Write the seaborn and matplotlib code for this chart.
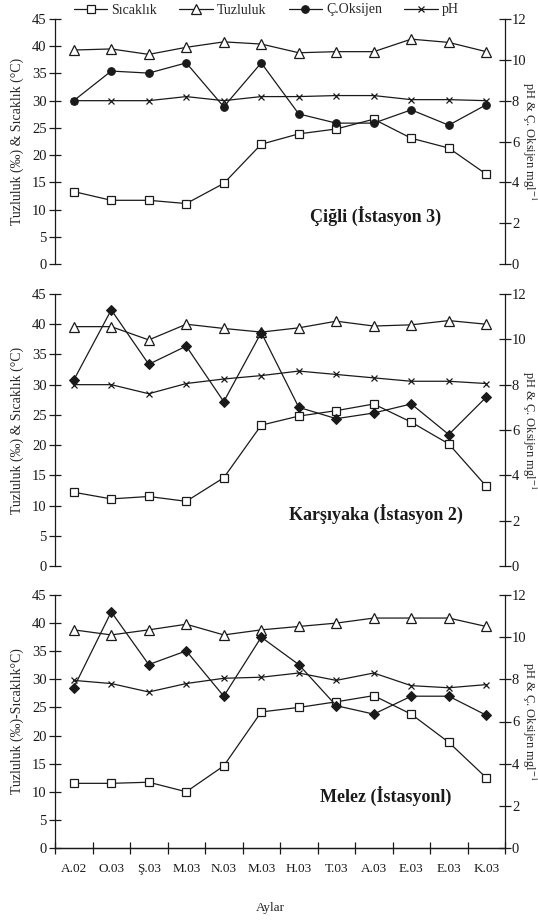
import numpy as np
import pandas as pd
import matplotlib
matplotlib.use("Agg")
import matplotlib.pyplot as plt
import seaborn as sns

# Months (x axis)
months = ["A.02", "O.03", "Ş.03", "M.03", "N.03", "M.03",
          "H.03", "T.03", "A.03", "E.03", "E.03", "K.03"]

# Çiğli (İstasyon 3)
cigli_sicaklik = [13.3, 11.7, 11.7, 11.1, 14.8, 22.0, 23.9, 24.8, 26.6, 23.1, 21.3, 16.5]
cigli_tuzluluk = [39.3, 39.5, 38.5, 39.8, 40.8, 40.4, 38.8, 39.0, 39.0, 41.3, 40.7, 39.0]
cigli_oksijen = [8.0, 9.45, 9.35, 9.85, 7.7, 9.85, 7.35, 6.9, 6.9, 7.55, 6.8, 7.8]
cigli_ph = [8.0, 8.0, 8.0, 8.2, 8.0, 8.2, 8.2, 8.25, 8.25, 8.05, 8.05, 8.0]

# Karşıyaka (İstasyon 2)
karsiyaka_sicaklik = [12.2, 11.1, 11.5, 10.7, 14.6, 23.3, 24.8, 25.7, 26.8, 23.8, 20.2, 13.2]
karsiyaka_tuzluluk = [39.6, 39.6, 37.4, 40.0, 39.3, 38.7, 39.4, 40.5, 39.7, 39.9, 40.6, 40.0]
karsiyaka_oksijen = [8.2, 11.3, 8.9, 9.7, 7.25, 10.3, 7.0, 6.5, 6.75, 7.15, 5.8, 7.45]
karsiyaka_ph = [8.0, 8.0, 7.6, 8.05, 8.25, 8.4, 8.6, 8.45, 8.3, 8.15, 8.15, 8.05]

# Melez (İstasyon 1)
melez_sicaklik = [11.5, 11.5, 11.7, 10.0, 14.6, 24.2, 25.0, 26.0, 27.1, 23.8, 18.8, 12.5]
melez_tuzluluk = [38.8, 37.9, 38.8, 39.8, 37.9, 38.8, 39.4, 40.0, 40.9, 40.9, 40.9, 39.4]
melez_oksijen = [7.6, 11.2, 8.7, 9.35, 7.2, 10.0, 8.7, 6.75, 6.35, 7.2, 7.2, 6.3]
melez_ph = [7.95, 7.8, 7.4, 7.8, 8.05, 8.1, 8.3, 7.95, 8.3, 7.7, 7.6, 7.75]

stations = ["Çiğli (İstasyon 3)", "Karşıyaka (İstasyon 2)", "Melez (İstasyonl)"]
left_labels = ["Tuzluluk (‰) & Sıcaklık (°C)", "Tuzluluk (‰) & Sıcaklık (°C)",
               "Tuzluluk (‰)-Sıcaklık°C)"]
right_label = "pH & Ç. Oksijen mgl$^{-1}$"

sns.set_style("white")
plt.rcParams["font.family"] = ["Liberation Serif", "DejaVu Serif"]
plt.rcParams["mathtext.fontset"] = "stix"

fig = plt.figure(figsize=(5.38, 9.22), dpi=100)

W, H = 538, 922
panel_px = [(19, 264), (294, 566), (595, 848)]
x0, x1 = 55, 505

data = [
    (cigli_sicaklik, cigli_tuzluluk, cigli_oksijen, cigli_ph, "o"),
    (karsiyaka_sicaklik, karsiyaka_tuzluluk, karsiyaka_oksijen, karsiyaka_ph, "D"),
    (melez_sicaklik, melez_tuzluluk, melez_oksijen, melez_ph, "D"),
]
station_pos = [(376, 216), (376, 514), (386, 796)]

x = np.arange(len(months))
lc = "#1a1a1a"
handles = []

for i, (top, bot) in enumerate(panel_px):
    ax = fig.add_axes([x0 / W, 1 - bot / H, (x1 - x0) / W, (bot - top) / H])
    ax2 = ax.twinx()
    sic, tuz, oks, ph, omark = data[i]

    df = pd.DataFrame({"x": x, "sic": sic, "tuz": tuz, "oks": oks, "ph": ph})
    sns.lineplot(data=df, x="x", y="sic", ax=ax, color=lc, lw=0.9, marker="s",
                 markersize=6, markerfacecolor="white", markeredgecolor=lc,
                 markeredgewidth=0.9, label="Sıcaklık", legend=False)
    sns.lineplot(data=df, x="x", y="tuz", ax=ax, color=lc, lw=0.9, marker="^",
                 markersize=7, markerfacecolor="white", markeredgecolor=lc,
                 markeredgewidth=0.9, label="Tuzluluk", legend=False)
    sns.lineplot(data=df, x="x", y="oks", ax=ax2, color=lc, lw=0.9, marker=omark,
                 markersize=5.5 if omark == "o" else 5, markerfacecolor=lc,
                 markeredgecolor=lc, label="Ç.Oksijen", legend=False)
    sns.lineplot(data=df, x="x", y="ph", ax=ax2, color=lc, lw=0.9, marker="x",
                 markersize=5, markeredgewidth=0.9, markeredgecolor=lc,
                 label="pH", legend=False)
    if i == 0:
        handles = ax.get_lines()[:2] + ax2.get_lines()[:2]

    ax.set_ylim(0, 45)
    ax2.set_ylim(0, 12)
    ax.set_xlim(-0.5, 11.5)
    ax.set_yticks(range(0, 46, 5))
    ax2.set_yticks(range(0, 13, 2))
    for a in (ax, ax2):
        a.spines["top"].set_visible(False)
        a.tick_params(axis="y", direction="inout", length=8, width=0.9,
                      labelsize=10.5, colors=lc, pad=2)
        for s in a.spines.values():
            s.set_color(lc)
            s.set_linewidth(0.9)
    ax.spines["right"].set_visible(False)
    ax2.spines["left"].set_visible(False)
    ax.tick_params(axis="y", left=True)
    ax2.tick_params(axis="y", right=True, pad=1)

    ax.set_ylabel(left_labels[i], fontsize=10)
    ax.yaxis.label.set_verticalalignment("center")
    ax.yaxis.set_label_coords((17 - x0) / (x1 - x0), 0.5)
    ax2.set_ylabel(right_label, fontsize=9)
    ax2.yaxis.label.set_rotation(270)
    ax2.yaxis.label.set_verticalalignment("center")
    ax2.yaxis.set_label_coords((529 - x0) / (x1 - x0), 0.5)

    if i < 2:
        ax.spines["bottom"].set_visible(False)
        ax2.spines["bottom"].set_visible(False)
        ax.set_xticks([])
        ax.set_xlabel("")
    else:
        ax.set_xticks(np.arange(-0.5, 12, 1))
        ax.set_xticklabels([])
        ax.set_xticks(x, minor=True)
        ax.set_xticklabels(months, minor=True, fontsize=9.5)
        ax.tick_params(axis="x", which="major", direction="inout", length=8,
                       width=0.9, bottom=True, colors=lc)
        ax.tick_params(axis="x", which="minor", length=0, pad=11, colors=lc)
        ax.set_xlabel("Aylar", fontsize=9.5)
        ax.xaxis.label.set_verticalalignment("center")
        ax.xaxis.set_label_coords((270 - x0) / (x1 - x0), -(908 - bot) / (bot - top))
    ax2.set_xlabel("")

    fig.text(station_pos[i][0] / W, 1 - station_pos[i][1] / H, stations[i],
             fontsize=13, fontweight="bold", ha="center", va="center", color=lc)

fig.legend(handles, ["Sıcaklık", "Tuzluluk", "Ç.Oksijen", "pH"],
           loc="center", bbox_to_anchor=(0.495, 1 - 10 / H), ncol=4,
           frameon=False, fontsize=10, handlelength=2.4, columnspacing=1.6,
           handletextpad=0.3, borderpad=0)

fig.savefig("out.png", dpi=100)
